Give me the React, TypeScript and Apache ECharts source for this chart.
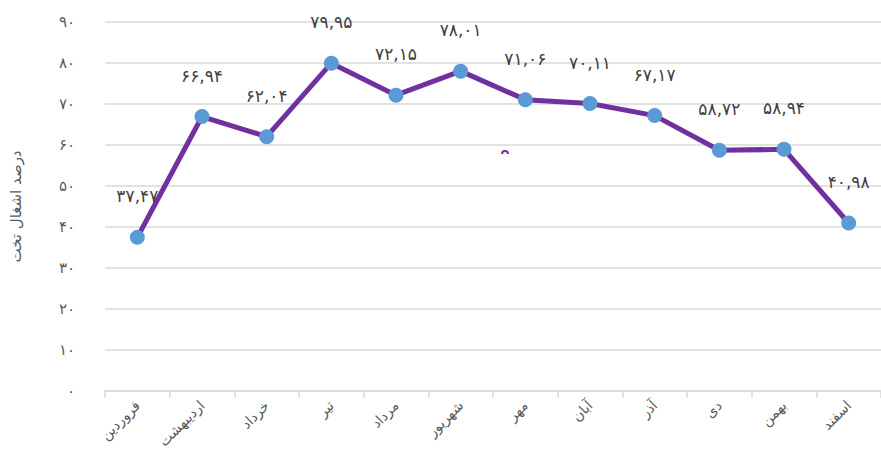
import React, { useEffect, useRef } from "react";
import * as echarts from "echarts";

const categories = ["فروردین", "اردیبهشت", "خرداد", "تیر", "مرداد", "شهریور", "مهر", "آبان", "آذر", "دی", "بهمن", "اسفند"];
const occupancy = [37.47, 66.94, 62.04, 79.95, 72.15, 78.01, 71.06, 70.11, 67.17, 58.72, 58.94, 40.98];
const yTicks = [0, 10, 20, 30, 40, 50, 60, 70, 80, 90];
const axisName = "درصد اشغال تخت";

const fa = (s: string) => s.replace(/[0-9]/g, (d) => String.fromCharCode(0x06f0 + Number(d)));

export default function App() {
  const ref = useRef<HTMLDivElement>(null);
  useEffect(() => {
    if (!ref.current) return;
    const chart = echarts.init(ref.current, null, { renderer: "svg" });
    const font = "'DejaVu Sans', 'Noto Sans', sans-serif";
    chart.setOption({
      animation: false,
      textStyle: { fontFamily: font },
      grid: { left: 105, right: -4, top: 22, bottom: 67, containLabel: false },
      xAxis: {
        type: "category",
        data: categories,
        boundaryGap: true,
        axisLine: { lineStyle: { color: "#d9d9d9", width: 1.5 } },
        axisTick: { show: true, length: 7, lineStyle: { color: "#d9d9d9", width: 1.5 } },
        axisLabel: { rotate: 45, color: "#595959", fontSize: 14, margin: 12, fontFamily: font },
      },
      yAxis: {
        type: "value",
        min: yTicks[0],
        max: yTicks[yTicks.length - 1],
        interval: 10,
        name: axisName,
        nameLocation: "middle",
        nameGap: 82,
        nameRotate: 90,
        nameTextStyle: { color: "#595959", fontSize: 15, fontFamily: font },
        axisLine: { show: false },
        axisTick: { show: false },
        splitLine: { lineStyle: { color: "#d9d9d9", width: 1.5 } },
        axisLabel: {
          color: "#595959",
          fontSize: 15,
          margin: 30,
          fontFamily: font,
          formatter: (v: number) => fa(String(v)),
        },
      },
      series: [
        {
          type: "line",
          data: occupancy,
          lineStyle: { color: "#7030a0", width: 5 },
          itemStyle: { color: "#5b9bd5" },
          symbol: "circle",
          symbolSize: 15,
          label: {
            show: true,
            position: "top",
            distance: 25,
            color: "#404040",
            fontSize: 17,
            fontWeight: "normal",
            fontFamily: font,
            formatter: (p: any) => fa(Number(p.value).toFixed(2).replace(".", ",")),
          },
        },
      ],
      graphic: [
        {
          type: "arc",
          shape: { cx: 505, cy: 154, r: 3, startAngle: Math.PI, endAngle: 2 * Math.PI },
          style: { stroke: "#7030a0", lineWidth: 2, fill: "none" },
        },
      ],
    });
    return () => chart.dispose();
  }, []);
  return <div ref={ref} style={{ width: 881, height: 458, position: "absolute", left: 0, top: 0 }} />;
}
